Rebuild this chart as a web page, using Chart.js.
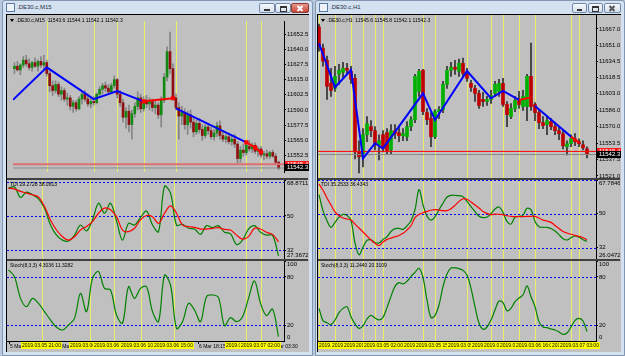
<!DOCTYPE html>
<html>
<head>
<meta charset="utf-8">
<title>.DE30.c M15 / H1</title>
<script src="https://cdn.jsdelivr.net/npm/chart.js@4.4.1/dist/chart.umd.min.js"></script>
<style>
  body { margin:0; width:625px; height:356px; overflow:hidden; position:relative; background:#b9c9dd; font-family:'Liberation Sans', Arial, sans-serif; }
  .abs { position:absolute; }
  .win { position:absolute; top:0; height:354px; background:#d4e1f0; border:1px solid #8396b1; border-radius:3px 3px 0 0; }
  .title { position:absolute; top:3px; font-size:6px; line-height:8px; color:#1c3048; white-space:nowrap; }
  .icon { position:absolute; top:3px; width:7px; height:7px; border:1px solid #5b7aa3; background:#eef3fa; }
  .btn { position:absolute; top:3px; height:8px; border:1px solid #7489a7; border-radius:2px; background:linear-gradient(#f5f8fc,#d5e0ee); }
  .btn.red { background:linear-gradient(#e89a8c,#c8443a); border-color:#8a3c34; }
  .plot { position:absolute; background:#c0c0c0; border-left:1px solid #000; border-top:1px solid #000; }
  canvas { position:absolute; }
  .sep { position:absolute; height:2px; background:#404040; }
  .lbl { position:absolute; font-size:5px; line-height:6px; color:#000; white-space:nowrap; }
  .tbox { position:absolute; top:342px; font-size:5px; line-height:7px; height:7px; background:#ffff00; color:#000; white-space:nowrap; padding:0 1px; }
  .pbox { position:absolute; font-size:6px; line-height:7px; height:7px; width:22px; color:#fff; padding-left:2px; }
</style>
</head>
<body>
<div class="win" style="left:2px;width:309px"></div>
<div class="win" style="left:315px;width:308px"></div>

<div class="icon" style="left:6px"></div>
<div class="title" style="left:17px">.DE30.c,M15</div>
<div class="btn" style="left:259px;width:14px"><div class="abs" style="left:4px;top:5px;width:6px;height:2px;background:#333"></div></div>
<div class="btn" style="left:275px;width:14px"><div class="abs" style="left:4px;top:2px;width:5px;height:3px;border:1px solid #333;border-top-width:2px"></div></div>
<div class="btn red" style="left:291px;width:16px"><div class="abs" style="left:7px;top:1px;width:2px;height:7px;background:#fff;transform:rotate(45deg)"></div><div class="abs" style="left:7px;top:1px;width:2px;height:7px;background:#fff;transform:rotate(-45deg)"></div></div>

<div class="icon" style="left:319px"></div>
<div class="title" style="left:330px">.DE30.c,H1</div>
<div class="btn" style="left:572px;width:13px"><div class="abs" style="left:4px;top:5px;width:5px;height:2px;background:#333"></div></div>
<div class="btn" style="left:588px;width:13px"><div class="abs" style="left:3px;top:2px;width:5px;height:3px;border:1px solid #333;border-top-width:2px"></div></div>
<div class="btn" style="left:604px;width:15px"><div class="abs" style="left:6px;top:1px;width:2px;height:7px;background:#555;transform:rotate(45deg)"></div><div class="abs" style="left:6px;top:1px;width:2px;height:7px;background:#555;transform:rotate(-45deg)"></div></div>

<div class="plot" style="left:6px;top:14px;width:302px;height:337px"></div>
<div class="plot" style="left:317px;top:14px;width:303px;height:337px"></div>

<canvas id="m15Main" width="301" height="163" style="left:7px;top:15px"></canvas>
<canvas id="m15Tdi" width="301" height="79" style="left:7px;top:180px"></canvas>
<canvas id="m15Stoch" width="301" height="80" style="left:7px;top:261px"></canvas>
<canvas id="h1Main" width="302" height="163" style="left:318px;top:15px"></canvas>
<canvas id="h1Tdi" width="302" height="79" style="left:318px;top:180px"></canvas>
<canvas id="h1Stoch" width="302" height="80" style="left:318px;top:261px"></canvas>

<div class="sep" style="left:7px;top:178px;width:301px"></div>
<div class="sep" style="left:7px;top:259px;width:301px"></div>
<div class="sep" style="left:318px;top:178px;width:302px"></div>
<div class="sep" style="left:318px;top:259px;width:302px"></div>
<div class="abs" style="left:7px;top:341px;width:278px;height:1px;background:#000"></div>
<div class="abs" style="left:318px;top:341px;width:279px;height:1px;background:#000"></div>

<div class="abs" style="left:10px;top:19px;border-left:2px solid transparent;border-right:2px solid transparent;border-top:3px solid #000"></div>
<div class="lbl" style="left:16px;top:17px">.DE30.c,M15&nbsp; 11543.6 11544.1 11542.1 11542.3</div>
<div class="lbl" style="left:10px;top:181px">TDI 29.2728 38.0813</div>
<div class="lbl" style="left:10px;top:262px">Stoch(8,3,3) 4.3036 11.3282</div>
<div class="abs" style="left:321px;top:19px;border-left:2px solid transparent;border-right:2px solid transparent;border-top:3px solid #000"></div>
<div class="lbl" style="left:327px;top:17px">.DE30.c,H1&nbsp; 11545.6 11545.8 11542.1 11542.3</div>
<div class="lbl" style="left:321px;top:181px">TDI 35.2533 36.4343</div>
<div class="lbl" style="left:321px;top:262px">Stoch(8,3,3) 11.2440 20.3109</div>

<script>
// ---------- M15 window (left) ----------
const m15Open = [11624, 11626, 11623, 11627, 11631, 11628, 11625, 11629, 11626, 11630,
    11627, 11629, 11620, 11610, 11606, 11611, 11603, 11606, 11599, 11600,
    11593, 11596, 11591, 11599, 11603, 11599, 11595, 11597, 11596, 11603,
    11607, 11610, 11608, 11605, 11610, 11615, 11603, 11596, 11584, 11589,
    11578, 11587, 11593, 11600, 11591, 11598, 11595, 11597, 11592, 11594,
    11586, 11598, 11617, 11638, 11624, 11600, 11592, 11585, 11588, 11578,
    11586, 11580, 11572, 11579, 11574, 11569, 11576, 11573, 11568, 11571,
    11577, 11569, 11566, 11568, 11564, 11566, 11562, 11550, 11557, 11555,
    11560, 11558, 11561, 11556, 11558, 11553, 11554, 11552, 11555, 11552, 11547];
const m15High = [11629, 11630, 11628, 11634, 11635, 11632, 11630, 11633, 11631, 11634,
    11635, 11631, 11622, 11614, 11614, 11613, 11609, 11608, 11604, 11602,
    11598, 11598, 11601, 11605, 11606, 11603, 11600, 11601, 11604, 11609,
    11612, 11613, 11611, 11612, 11618, 11616, 11606, 11599, 11592, 11594,
    11590, 11596, 11605, 11603, 11601, 11602, 11600, 11599, 11597, 11596,
    11601, 11620, 11642, 11654, 11628, 11603, 11596, 11593, 11591, 11589,
    11590, 11584, 11582, 11583, 11578, 11578, 11579, 11576, 11574, 11580,
    11581, 11573, 11570, 11571, 11569, 11570, 11564, 11560, 11562, 11564,
    11565, 11563, 11563, 11560, 11560, 11556, 11557, 11556, 11557, 11554, 11548];
const m15Low = [11620, 11622, 11619, 11625, 11626, 11623, 11622, 11625, 11622, 11625,
    11624, 11618, 11605, 11602, 11604, 11601, 11598, 11597, 11594, 11590,
    11588, 11589, 11590, 11595, 11597, 11593, 11592, 11594, 11595, 11601,
    11603, 11605, 11603, 11604, 11608, 11600, 11593, 11580, 11575, 11572,
    11566, 11584, 11590, 11588, 11589, 11592, 11590, 11589, 11587, 11583,
    11576, 11596, 11614, 11620, 11598, 11590, 11566, 11578, 11574, 11570,
    11575, 11568, 11570, 11571, 11565, 11567, 11570, 11566, 11565, 11568,
    11566, 11564, 11563, 11562, 11561, 11559, 11546, 11547, 11552, 11553,
    11556, 11555, 11554, 11552, 11551, 11549, 11550, 11550, 11551, 11545, 11541];
const m15Close = [11626, 11623, 11627, 11631, 11628, 11625, 11629, 11626, 11630, 11627,
    11629, 11620, 11610, 11606, 11611, 11603, 11606, 11599, 11600, 11593,
    11596, 11591, 11599, 11603, 11599, 11595, 11597, 11596, 11603, 11607,
    11610, 11608, 11605, 11610, 11615, 11603, 11596, 11584, 11589, 11578,
    11587, 11593, 11600, 11591, 11598, 11595, 11597, 11592, 11594, 11586,
    11598, 11617, 11638, 11624, 11600, 11592, 11585, 11588, 11578, 11586,
    11580, 11572, 11579, 11574, 11569, 11576, 11573, 11568, 11571, 11577,
    11569, 11566, 11568, 11564, 11566, 11562, 11550, 11557, 11555, 11561,
    11558, 11561, 11556, 11558, 11553, 11554, 11552, 11555, 11552, 11547, 11542.3];
// zigzag legs as [bar, price]
const m15ZigBlue = [[[-0.5, 11598.4], [11, 11625.1], [27, 11598.9], [35, 11605.5], [44, 11597.1]],
                    [[55, 11591.3], [79, 11563.4]]];
const m15ZigRed = [[[44, 11597.1], [54, 11599.7]],
                   [[79, 11563.4], [82, 11559.0], [84, 11555.2]]];
const m15Separators = [11, 27, 35, 44, 55, 79, 84];
const m15SeparatorTimes = ['2019.03.05 21:00', '2019.03.06 06:00', '2019.03.06 08:00', '2019.03.06 10:15',
                           '2019.03.06 15:00', '2019.03.07 01:00', '2019.03.07 02:00'];
const m15AxisBars = [0, 16, 63, 87];
const m15AxisTimes = ['5 Mar', '5 Mar 22:30', '6 Mar 18:15', '7 Mar 03:30'];
const m15PriceTicks = [11652.5, 11640.0, 11627.5, 11615.0, 11602.5, 11590.0, 11577.5, 11565.0, 11552.5];
// indicator values, one every 2nd bar
const m15TdiPrice = [64.6, 65.2, 59.7, 62.5, 61.1, 59.0, 54.1, 45.2, 39.9, 37.3, 36.8, 39.9, 45.2, 42.1, 47.9, 56.7,
    51.4, 56.7, 47.4, 37.3, 46.1, 45.2, 49.1, 52.6, 45.2, 41.7, 65.5, 62.0, 45.2, 45.6, 43.5, 43.1,
    40.3, 44.9, 43.8, 44.9, 41.4, 40.6, 35.0, 37.3, 43.1, 44.9, 41.4, 39.9, 39.9, 29.0];
const m15TdiSignal = [64.6, 64.1, 62.9, 62.0, 61.1, 59.9, 54.9, 47.9, 42.6, 39.1, 37.3, 39.1, 42.6, 44.4, 47.0, 51.4,
    54.1, 53.2, 49.6, 42.6, 41.7, 43.5, 47.9, 50.2, 49.6, 46.1, 51.4, 55.3, 51.4, 45.2, 44.4, 44.0,
    43.1, 43.1, 43.5, 43.8, 42.9, 42.6, 39.9, 37.8, 39.1, 43.5, 43.1, 41.4, 40.3, 36.4];
const m15Stoch = [88.8, 80.4, 53.3, 42.9, 53.3, 47.1, 36.7, 26.3, 17.1, 13.8, 20.0, 28.3, 59.6, 36.7, 78.3, 86.7,
    65.8, 63.8, 32.5, 22.1, 67.9, 53.3, 65.8, 67.9, 36.7, 24.2, 82.0, 70.0, 15.8, 24.2, 47.1, 38.8,
    24.2, 55.4, 57.5, 54.2, 19.2, 29.2, 24.2, 30.4, 53.3, 75.0, 47.1, 31.7, 40.0, 5.4];
const m15TdiTicks = [68.8711, 50, 32, 27.3672];
const m15Alert = 11545.4;
const m15Bid = 11542.3;

// ---------- H1 window (right) ----------
const h1Open = [11669, 11648, 11636, 11613, 11608, 11622, 11624, 11628, 11625, 11618,
    11545, 11540, 11562, 11570, 11566, 11552, 11562, 11564, 11547, 11566,
    11564, 11561, 11560, 11570, 11577, 11605, 11626, 11584, 11578, 11560,
    11585, 11587, 11612, 11626, 11629, 11625, 11633, 11622, 11613, 11608,
    11603, 11597, 11595, 11597, 11603, 11605, 11613, 11592, 11580, 11588,
    11596, 11590, 11590, 11620, 11592, 11584, 11574, 11572, 11575, 11570,
    11566, 11563, 11550, 11553, 11558, 11555, 11552, 11548];
const h1High = [11672, 11652, 11640, 11628, 11630, 11632, 11634, 11633, 11630, 11622,
    11556, 11568, 11580, 11576, 11570, 11562, 11566, 11568, 11572, 11572,
    11570, 11568, 11575, 11580, 11622, 11627, 11627, 11588, 11584, 11587,
    11590, 11615, 11630, 11634, 11636, 11637, 11638, 11628, 11616, 11611,
    11606, 11604, 11600, 11606, 11615, 11617, 11618, 11595, 11593, 11600,
    11605, 11606, 11622, 11653, 11594, 11587, 11580, 11580, 11578, 11574,
    11570, 11566, 11556, 11562, 11563, 11558, 11556, 11550];
const h1Low = [11645, 11630, 11597, 11600, 11605, 11612, 11618, 11622, 11613, 11538,
    11524, 11530, 11555, 11560, 11547, 11537, 11545, 11543, 11543, 11558,
    11555, 11556, 11556, 11566, 11574, 11600, 11582, 11572, 11550, 11558,
    11578, 11584, 11608, 11620, 11622, 11620, 11620, 11615, 11605, 11595,
    11588, 11590, 11591, 11593, 11600, 11600, 11590, 11570, 11578, 11585,
    11588, 11586, 11576, 11586, 11576, 11568, 11568, 11562, 11567, 11562,
    11557, 11548, 11542, 11550, 11551, 11550, 11547, 11539];
const h1Close = [11650, 11635, 11610, 11606, 11620, 11626, 11628, 11626, 11617, 11545,
    11540, 11562, 11573, 11566, 11552, 11556, 11548, 11546, 11566, 11563,
    11561, 11563, 11570, 11577, 11620, 11625, 11585, 11577, 11560, 11585,
    11587, 11612, 11626, 11629, 11627, 11633, 11623, 11618, 11609, 11603,
    11591, 11595, 11597, 11601, 11612, 11613, 11592, 11582, 11588, 11596,
    11592, 11600, 11620, 11590, 11584, 11574, 11571, 11576, 11570, 11566,
    11563, 11551, 11553, 11558, 11555, 11553, 11549, 11542.3];
const h1ZigBlue = [[[0, 11652.8], [4, 11609.1], [8, 11626.3], [11, 11538.6], [14, 11553.5], [16, 11548.5],
                    [26, 11603.1], [29, 11576.6], [37, 11625.3], [43, 11598.2], [46, 11605.5], [50, 11596.5]],
                   [[54, 11590.5], [63, 11560.1]]];
const h1ZigRed = [[[50, 11596.5], [53, 11599.1]],
                  [[63, 11560.1], [65, 11554.1]]];
const h1Separators = [0, 4, 8, 11, 14, 16, 26, 29, 37, 43, 46, 50, 54, 63, 65];
const h1SeparatorTimes = ['2019.03.04 10:00', '2019.03.04 14:00', '2019.03.04 18:00', '2019.03.04 21:00',
    '2019.03.05 00:00', '2019.03.05 02:00', '2019.03.05 12:00', '2019.03.05 15:00', '2019.03.05 23:00',
    '2019.03.06 05:00', '2019.03.06 08:00', '2019.03.06 12:00', '2019.03.06 16:00', '2019.03.07 01:00',
    '2019.03.07 03:00'];
const h1PriceTicks = [11667.0, 11651.0, 11634.5, 11618.5, 11603.0, 11586.0, 11570.0, 11553.5, 11537.5, 11521.0];
const h1TdiPrice = [60.1, 51.6, 46.3, 42.8, 45.4, 48.2, 49.6, 49.1, 46.3, 34.5, 28.3, 32.4, 35.9, 36.2, 34.8, 34.5,
    36.4, 37.8, 40.6, 42.1, 42.2, 41.7, 43.5, 46.3, 52.1, 62.7, 54.8, 48.6, 46.6, 48.4, 52.1, 55.5,
    58.8, 59.7, 59.7, 59.5, 59.0, 56.5, 53.7, 51.1, 48.6, 47.9, 48.2, 50.0, 52.5, 53.5, 50.7, 45.9,
    44.5, 48.1, 48.6, 49.1, 52.8, 52.1, 45.9, 43.1, 42.8, 42.8, 42.2, 40.8, 38.9, 36.8, 36.1, 37.3,
    38.2, 37.5, 36.2, 35.4];
const h1TdiSignal = [65.7, 62.4, 58.3, 54.6, 50.9, 48.9, 47.7, 47.2, 46.6, 44.5, 42.4, 40.3, 38.2, 36.1, 34.3, 33.2,
    35.0, 36.4, 37.1, 37.8, 38.5, 39.6, 41.4, 43.6, 47.9, 49.5, 50.5, 51.2, 51.8, 52.1, 51.9, 51.6,
    51.6, 52.6, 54.4, 56.5, 57.9, 57.6, 56.2, 54.6, 53.0, 51.2, 50.2, 49.5, 49.8, 49.6, 49.5, 48.9,
    48.6, 48.4, 48.4, 48.4, 48.6, 48.6, 48.6, 47.7, 46.6, 46.1, 45.4, 43.8, 42.2, 40.6, 39.8, 39.1,
    38.5, 38.0, 37.3, 36.2];
const h1Stoch = [40.8, 25.4, 22.9, 20.4, 26.3, 35.4, 40.8, 42.9, 30.4, 21.3, 15.8, 18.8, 27.5, 32.1, 28.8, 26.3,
    29.6, 41.7, 55.8, 68.3, 72.9, 71.3, 74.6, 80.8, 85.8, 90.8, 79.2, 51.3, 29.2, 32.1, 45.0, 67.9,
    83.8, 91.3, 91.3, 90.4, 88.3, 82.5, 65.8, 42.9, 22.5, 14.6, 17.5, 26.3, 38.8, 50.0, 47.9, 37.9,
    40.8, 49.2, 53.8, 57.5, 68.8, 55.4, 42.9, 24.2, 17.5, 16.7, 15.0, 13.8, 11.3, 8.3, 10.0, 17.5,
    25.8, 28.3, 25.0, 11.7];
const h1TdiTicks = [67.7846, 50, 32, 26.0472];
const h1Alert = 11545.4;
const h1Bid = 11542.3;

const stochTicks = [100, 80, 20, 0];
const tdiLevels = [68, 50, 32];
const stochLevels = [80, 20];

Chart.defaults.font.family = "'Liberation Sans', Arial, sans-serif";
Chart.defaults.font.size = 6;
Chart.defaults.color = '#000';

// separators (yellow) and indicator levels (blue dotted)
Chart.register({
    id: 'mt',
    beforeDatasetsDraw(chart, args, opts) {
        const { ctx, chartArea: a, scales: { x, y } } = chart;
        ctx.save();
        ctx.beginPath();
        ctx.rect(a.left, a.top, a.right - a.left, a.bottom - a.top);
        ctx.clip();
        ctx.lineWidth = 1;
        ctx.strokeStyle = '#eeee66';
        (opts.vlines || []).forEach(v => {
            const px = Math.round(x.getPixelForValue(v)) + 0.5;
            ctx.beginPath(); ctx.moveTo(px, a.top); ctx.lineTo(px, a.bottom); ctx.stroke();
        });
        ctx.strokeStyle = '#0000ff';
        ctx.setLineDash([2, 2]);
        (opts.levels || []).forEach(v => {
            const py = Math.round(y.getPixelForValue(v)) + 0.5;
            ctx.beginPath(); ctx.moveTo(a.left, py); ctx.lineTo(a.right, py); ctx.stroke();
        });
        ctx.restore();
    }
});

function rightAxis(min, max, ticks, fmt) {
    return {
        position: 'right', min, max,
        afterBuildTicks: s => { s.ticks = ticks.map(v => ({ value: v })); },
        afterFit: s => { s.width = 24; s.paddingTop = 0; s.paddingBottom = 0; },
        ticks: {
            autoSkip: false, padding: 1,
            callback: function (v) {
                const t = fmt(v);
                // keep the edge labels inside the panel, like the terminal does
                if (v === this.max) return ['', t];
                if (v === this.min) return [t, ''];
                return t;
            }
        },
        grid: { drawOnChartArea: false, drawTicks: true, tickLength: 2, tickColor: '#000', color: 'transparent' },
        border: { display: true, color: '#000', width: 1 }
    };
}

function candleSets(open, high, low, close, bodyWidth, up, down, wick) {
    return [
        {
            type: 'bar', order: 2, grouped: false, barThickness: bodyWidth, minBarLength: 1,
            data: open.map((o, i) => ({ x: i, y: [o, close[i]] })),
            backgroundColor: open.map((o, i) => close[i] >= o ? up : down)
        },
        {
            type: 'bar', order: 3, grouped: false, barThickness: 1,
            data: high.map((h, i) => ({ x: i, y: [low[i], h] })),
            backgroundColor: wick
        }
    ];
}

function pathSet(points, color, width, radius) {
    return {
        type: 'line', order: 0, data: points.map(p => ({ x: p[0], y: p[1] })),
        borderColor: color, backgroundColor: color, borderWidth: width,
        pointRadius: radius, pointStyle: 'rect', tension: 0
    };
}

function hLine(value, color, width) {
    return {
        type: 'line', order: 1, data: [{ x: -10, y: value }, { x: 200, y: value }],
        borderColor: color, borderWidth: width, pointRadius: 0
    };
}

function indicatorLine(values, step, color) {
    return {
        type: 'line', data: values.map((v, k) => ({ x: k * step, y: v })),
        borderColor: color, borderWidth: 1.2, pointRadius: 0, tension: 0.35
    };
}

function makeChart(id, datasets, xMin, xMax, yMin, yMax, ticks, fmt, mt) {
    return new Chart(document.getElementById(id), {
        type: 'line',
        data: { datasets },
        options: {
            responsive: false, animation: false, events: [],
            layout: { padding: 0 },
            plugins: { legend: { display: false }, tooltip: { enabled: false }, mt },
            scales: {
                x: { type: 'linear', display: false, min: xMin, max: xMax, offset: false },
                y: rightAxis(yMin, yMax, ticks, fmt)
            }
        }
    });
}

const priceFmt = v => v.toFixed(1);
const tdiFmt = v => Number.isInteger(v) ? String(v) : v.toFixed(4);
const stochFmt = v => String(v);

// left window
const m15X = [-0.5, 91.83];
const m15Main = makeChart('m15Main', [
    ...m15ZigRed.map(p => pathSet(p, '#ff0000', 2, 1.5)),
    ...m15ZigBlue.map(p => pathSet(p, '#0000ff', 2, 0)),
    hLine(m15Alert, '#e07070', 2),
    hLine(m15Bid, '#8a8a8a', 1),
    ...candleSets(m15Open, m15High, m15Low, m15Close, 2, '#108a10', '#8e1010', '#858585')
], m15X[0], m15X[1], 11539.0, 11663.2, m15PriceTicks, priceFmt, { vlines: m15Separators });

makeChart('m15Tdi', [
    indicatorLine(m15TdiSignal, 2, '#ff0000'),
    indicatorLine(m15TdiPrice, 2, '#008000')
], m15X[0], m15X[1], 27.3672, 68.8711, m15TdiTicks, tdiFmt, { vlines: m15Separators, levels: tdiLevels });

const m15StochChart = makeChart('m15Stoch', [
    indicatorLine(m15Stoch, 2, '#008000')
], m15X[0], m15X[1], 0, 100, stochTicks, stochFmt, { vlines: m15Separators, levels: stochLevels });

// right window
const h1X = [-0.25, 69.25];
const h1Main = makeChart('h1Main', [
    ...h1ZigRed.map(p => pathSet(p, '#ff0000', 2, 0)),
    ...h1ZigBlue.map(p => pathSet(p, '#0000ff', 2, 0)),
    hLine(h1Alert, '#ff0000', 1),
    hLine(h1Bid, '#8a8a8a', 1),
    ...candleSets(h1Open, h1High, h1Low, h1Close, 3, '#00b000', '#c00000', '#303030')
], h1X[0], h1X[1], 11519.0, 11680.9, h1PriceTicks, priceFmt, { vlines: h1Separators });

makeChart('h1Tdi', [
    indicatorLine(h1TdiSignal, 1, '#ff0000'),
    indicatorLine(h1TdiPrice, 1, '#008000')
], h1X[0], h1X[1], 26.0472, 67.7846, h1TdiTicks, tdiFmt, { vlines: h1Separators, levels: tdiLevels });

const h1StochChart = makeChart('h1Stoch', [
    indicatorLine(h1Stoch, 1, '#008000')
], h1X[0], h1X[1], 0, 100, stochTicks, stochFmt, { vlines: h1Separators, levels: stochLevels });

// price boxes on the price axis
function priceBox(chart, canvasTop, left, value, bg) {
    const d = document.createElement('div');
    d.className = 'pbox';
    d.style.left = left + 'px';
    d.style.top = (canvasTop + chart.scales.y.getPixelForValue(value) - 3.5) + 'px';
    d.style.background = bg;
    d.textContent = value.toFixed(1);
    document.body.appendChild(d);
}
priceBox(m15Main, 15, 285, m15Alert, '#ff1a1a');
priceBox(m15Main, 15, 285, m15Bid, '#000');
priceBox(h1Main, 15, 597, h1Alert, '#ff1a1a');
priceBox(h1Main, 15, 597, h1Bid, '#000');

// time axis: regular labels, then the separator labels on yellow
function axisLabels(chart, canvasLeft, bars, texts) {
    bars.forEach((b, i) => {
        const px = canvasLeft + chart.scales.x.getPixelForValue(b);
        const t = document.createElement('div');
        t.className = 'abs';
        t.style.cssText = `left:${Math.round(px)}px;top:342px;width:1px;height:2px;background:#000`;
        document.body.appendChild(t);
        const d = document.createElement('div');
        d.className = 'lbl';
        d.style.left = Math.max(canvasLeft + 1, Math.round(px) + 1) + 'px';
        d.style.top = '343px';
        d.textContent = texts[i];
        document.body.appendChild(d);
    });
}
function separatorLabels(chart, canvasLeft, bars, texts) {
    bars.forEach((b, i) => {
        const px = canvasLeft + chart.scales.x.getPixelForValue(b);
        const d = document.createElement('div');
        d.className = 'tbox';
        d.textContent = texts[i];
        document.body.appendChild(d);
        const w = d.offsetWidth;
        d.style.left = Math.max(canvasLeft, Math.round(px - w / 2)) + 'px';
    });
}
axisLabels(m15StochChart, 7, m15AxisBars, m15AxisTimes);
separatorLabels(m15StochChart, 7, m15Separators, m15SeparatorTimes);
separatorLabels(h1StochChart, 318, h1Separators, h1SeparatorTimes);
</script>
</body>
</html>
